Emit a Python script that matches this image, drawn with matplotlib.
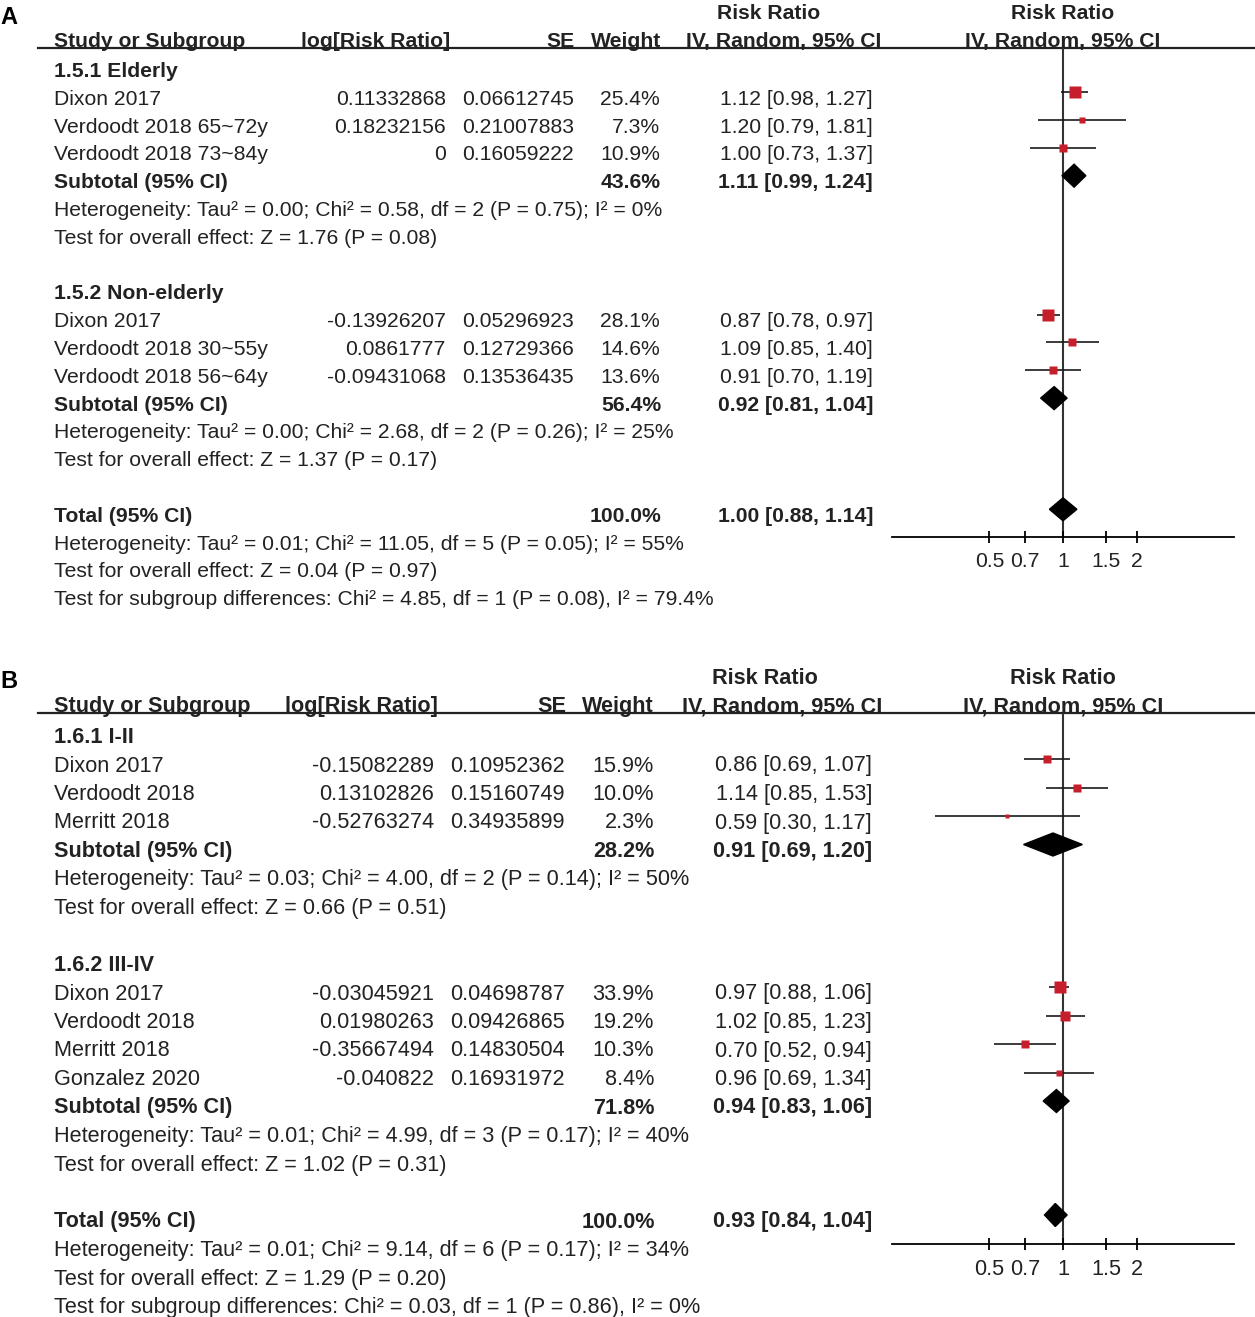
import numpy as np
import matplotlib.pyplot as plt
from matplotlib.patches import Polygon

plt.rcParams['font.family'] = ['Liberation Sans', 'DejaVu Sans']

# Panel A data
a_groups = ['1.5.1 Elderly', '1.5.2 Non-elderly']
a_study = ['Dixon 2017', 'Verdoodt 2018 65~72y', 'Verdoodt 2018 73~84y',
           'Dixon 2017', 'Verdoodt 2018 30~55y', 'Verdoodt 2018 56~64y']
a_group_idx = [0, 0, 0, 1, 1, 1]
a_logrr = ['0.11332868', '0.18232156', '0', '-0.13926207', '0.0861777', '-0.09431068']
a_se = ['0.06612745', '0.21007883', '0.16059222', '0.05296923', '0.12729366', '0.13536435']
a_weight = [25.4, 7.3, 10.9, 28.1, 14.6, 13.6]
a_rr = [1.12, 1.20, 1.00, 0.87, 1.09, 0.91]
a_lo = [0.98, 0.79, 0.73, 0.78, 0.85, 0.70]
a_hi = [1.27, 1.81, 1.37, 0.97, 1.40, 1.19]
a_sub_weight = [43.6, 56.4]
a_sub_rr = [1.11, 0.92]
a_sub_lo = [0.99, 0.81]
a_sub_hi = [1.24, 1.04]
a_sub_het = ['Heterogeneity: Tau² = 0.00; Chi² = 0.58, df = 2 (P = 0.75); I² = 0%',
             'Heterogeneity: Tau² = 0.00; Chi² = 2.68, df = 2 (P = 0.26); I² = 25%']
a_sub_test = ['Test for overall effect: Z = 1.76 (P = 0.08)',
              'Test for overall effect: Z = 1.37 (P = 0.17)']
a_total = [1.00, 0.88, 1.14]
a_total_het = 'Heterogeneity: Tau² = 0.01; Chi² = 11.05, df = 5 (P = 0.05); I² = 55%'
a_total_test = 'Test for overall effect: Z = 0.04 (P = 0.97)'
a_diff = 'Test for subgroup differences: Chi² = 4.85, df = 1 (P = 0.08), I² = 79.4%'

# Panel B data
b_groups = ['1.6.1 I-II', '1.6.2 III-IV']
b_study = ['Dixon 2017', 'Verdoodt 2018', 'Merritt 2018',
           'Dixon 2017', 'Verdoodt 2018', 'Merritt 2018', 'Gonzalez 2020']
b_group_idx = [0, 0, 0, 1, 1, 1, 1]
b_logrr = ['-0.15082289', '0.13102826', '-0.52763274',
           '-0.03045921', '0.01980263', '-0.35667494', '-0.040822']
b_se = ['0.10952362', '0.15160749', '0.34935899',
        '0.04698787', '0.09426865', '0.14830504', '0.16931972']
b_weight = [15.9, 10.0, 2.3, 33.9, 19.2, 10.3, 8.4]
b_rr = [0.86, 1.14, 0.59, 0.97, 1.02, 0.70, 0.96]
b_lo = [0.69, 0.85, 0.30, 0.88, 0.85, 0.52, 0.69]
b_hi = [1.07, 1.53, 1.17, 1.06, 1.23, 0.94, 1.34]
b_sub_weight = [28.2, 71.8]
b_sub_rr = [0.91, 0.94]
b_sub_lo = [0.69, 0.83]
b_sub_hi = [1.20, 1.06]
b_sub_het = ['Heterogeneity: Tau² = 0.03; Chi² = 4.00, df = 2 (P = 0.14); I² = 50%',
             'Heterogeneity: Tau² = 0.01; Chi² = 4.99, df = 3 (P = 0.17); I² = 40%']
b_sub_test = ['Test for overall effect: Z = 0.66 (P = 0.51)',
              'Test for overall effect: Z = 1.02 (P = 0.31)']
b_total = [0.93, 0.84, 1.04]
b_total_het = 'Heterogeneity: Tau² = 0.01; Chi² = 9.14, df = 6 (P = 0.17); I² = 34%'
b_total_test = 'Test for overall effect: Z = 1.29 (P = 0.20)'
b_diff = 'Test for subgroup differences: Chi² = 0.03, df = 1 (P = 0.86), I² = 0%'

ticks = [0.5, 0.7, 1, 1.5, 2]
tick_labels = ['0.5', '0.7', '1', '1.5', '2']

W, H = 1255, 1317
TXT = '#222222'
RED = '#c61f2b'

fig = plt.figure(figsize=(W / 100, H / 100), dpi=100)
base = fig.add_axes([0, 0, 1, 1])
base.set_xlim(0, W)
base.set_ylim(H, 0)
base.axis('off')


def ci_str(rr, lo, hi):
    return f'{rr:.2f} [{lo:.2f}, {hi:.2f}]'


def draw_panel(label, label_y, lay, groups, study, gidx, logrr, se, weight, rr, lo, hi,
               sub_w, sub_rr, sub_lo, sub_hi, sub_het, sub_test, total, total_het,
               total_test, diff):
    y0, step = lay['y0'], lay['step']
    cx = lay['cols']
    fs = lay['fs']

    def ty(r):
        return y0 + step * r + 7

    def put(x, r, s, ha='left', bold=False):
        base.text(x, ty(r), s, ha=ha, va='baseline', fontsize=fs, color=TXT,
                  fontweight='bold' if bold else 'normal')

    def head(x, y, s, ha):
        base.text(x, y + 7, s, ha=ha, va='baseline', fontsize=fs,
                  fontweight='bold', color=TXT)

    # panel letter and headers
    base.text(0, label_y, label, fontsize=17, fontweight='bold', color='black',
              ha='left', va='center')
    head(cx['rrtop'], lay['head1'], 'Risk Ratio', 'center')
    head(1063, lay['head1'], 'Risk Ratio', 'center')
    head(54, lay['head2'], 'Study or Subgroup', 'left')
    head(cx['loghead'], lay['head2'], 'log[Risk Ratio]', 'right')
    head(cx['sehead'], lay['head2'], 'SE', 'right')
    head(cx['whead'], lay['head2'], 'Weight', 'right')
    head(cx['rrhead'], lay['head2'], 'IV, Random, 95% CI', 'center')
    head(1063, lay['head2'], 'IV, Random, 95% CI', 'center')
    base.plot([38, W], [lay['line'], lay['line']], color='#222222', lw=1.6)

    # forest axes sharing the row coordinates
    r_top = (lay['line'] - y0) / step
    r_bot = (lay['axis'] - y0) / step
    fx0, fx1 = 892, 1234
    fax = fig.add_axes([fx0 / W, 1 - lay['axis'] / H, (fx1 - fx0) / W,
                        (lay['axis'] - lay['line']) / H])
    fax.set_xscale('log')
    fax.set_xlim(0.2, 5)
    fax.set_ylim(r_bot, r_top)
    fax.patch.set_alpha(0)
    for s in ['top', 'left', 'right']:
        fax.spines[s].set_visible(False)
    fax.spines['bottom'].set_linewidth(1.3)
    fax.set_yticks([])
    fax.set_xticks(ticks)
    fax.set_xticklabels(tick_labels, fontsize=fs, color=TXT)
    fax.minorticks_off()
    fax.tick_params(axis='x', direction='inout', length=9, width=1.3, pad=6)
    fax.axvline(1, color='#333333', lw=1.5, zorder=1)

    off = 5.5 / step
    dh = 11.5 / step

    def diamond(r, c, l, h):
        fax.add_patch(Polygon([[l, r - off], [c, r - off - dh], [h, r - off], [c, r - off + dh]],
                              closed=True, color='black', zorder=3))

    r = 0
    for g, gname in enumerate(groups):
        put(54, r, gname, bold=True)
        r += 1
        for i in [k for k in range(len(study)) if gidx[k] == g]:
            put(54, r, study[i])
            put(cx['log'], r, logrr[i], ha='right')
            put(cx['se'], r, se[i], ha='right')
            put(cx['w'], r, f'{weight[i]:.1f}%', ha='right')
            put(cx['ci'], r, ci_str(rr[i], lo[i], hi[i]), ha='right')
            fax.hlines(r - off, lo[i], hi[i], color='#1a1a1a', lw=1.2, zorder=2)
            fax.plot([rr[i]], [r - off], marker='s', ms=1.6 * np.sqrt(weight[i]),
                     color=RED, mec='none', zorder=3)
            r += 1
        put(54, r, 'Subtotal (95% CI)', bold=True)
        put(cx['w'] + 1, r, f'{sub_w[g]:.1f}%', ha='right', bold=True)
        put(cx['ci'], r, ci_str(sub_rr[g], sub_lo[g], sub_hi[g]), ha='right', bold=True)
        diamond(r, sub_rr[g], sub_lo[g], sub_hi[g])
        r += 1
        put(54, r, sub_het[g])
        r += 1
        put(54, r, sub_test[g])
        r += 2
    put(54, r, 'Total (95% CI)', bold=True)
    put(cx['w'] + 1, r, '100.0%', ha='right', bold=True)
    put(cx['ci'], r, ci_str(*total), ha='right', bold=True)
    diamond(r, total[0], total[1], total[2])
    put(54, r + 1, total_het)
    put(54, r + 2, total_test)
    put(54, r + 3, diff)


lay_a = dict(y0=70, step=27.8, head1=12, head2=40, line=48, axis=537, fs=15.2,
             cols=dict(log=446, se=574, w=660, ci=873, loghead=450, sehead=575,
                       whead=661, rrhead=784, rrtop=769))
lay_b = dict(y0=736, step=28.5, head1=677, head2=705, line=713, axis=1244, fs=15.6,
             cols=dict(log=434, se=565, w=654, ci=872, loghead=438, sehead=566,
                       whead=654, rrhead=782, rrtop=765))

draw_panel('A', 17, lay_a, a_groups, a_study, a_group_idx, a_logrr, a_se, a_weight,
           a_rr, a_lo, a_hi, a_sub_weight, a_sub_rr, a_sub_lo, a_sub_hi, a_sub_het,
           a_sub_test, a_total, a_total_het, a_total_test, a_diff)
draw_panel('B', 681, lay_b, b_groups, b_study, b_group_idx, b_logrr, b_se, b_weight,
           b_rr, b_lo, b_hi, b_sub_weight, b_sub_rr, b_sub_lo, b_sub_hi, b_sub_het,
           b_sub_test, b_total, b_total_het, b_total_test, b_diff)

fig.savefig('out.png', dpi=100)
